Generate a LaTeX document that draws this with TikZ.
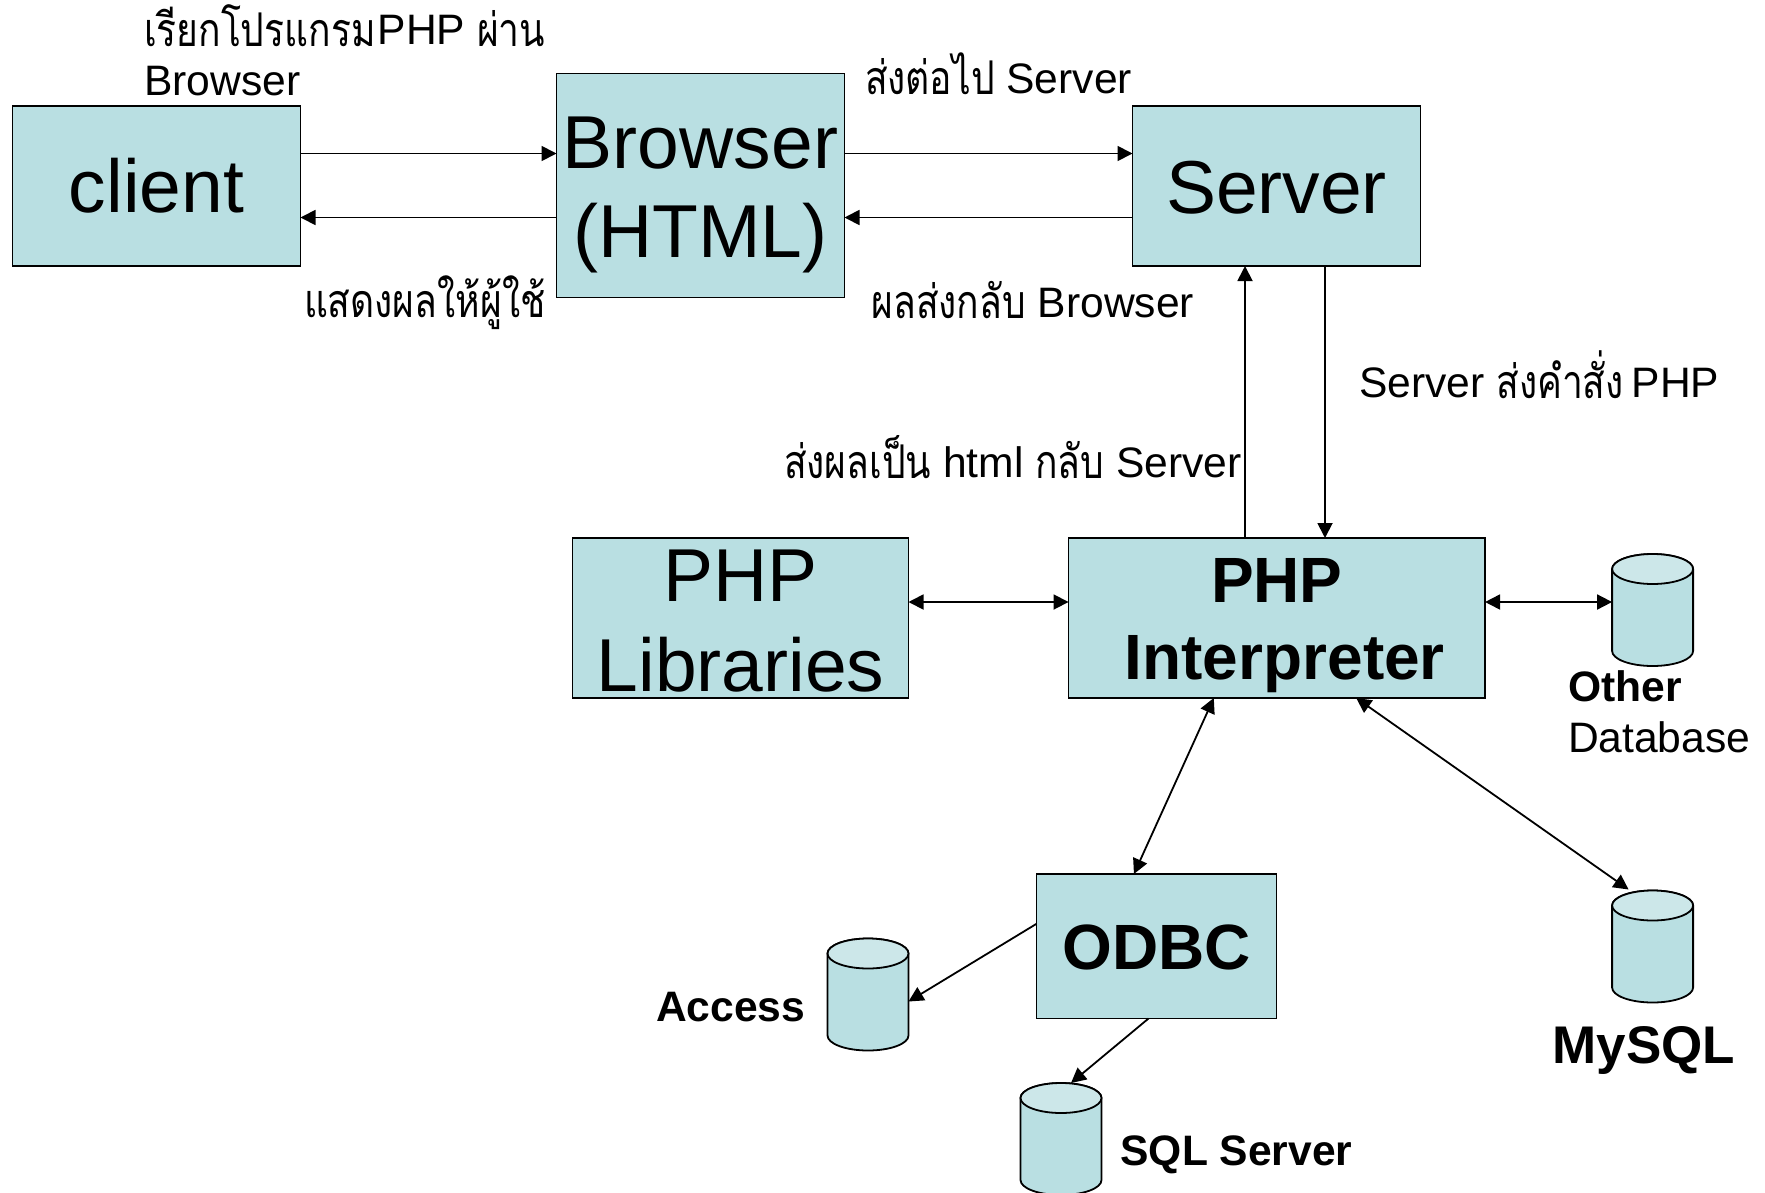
\documentclass[tikz,border=0pt]{standalone}
\usepackage{fontspec}
\setmainfont{Liberation Sans}
\newfontfamily\thaifont[Script=Thai,FakeStretch=0.8]{Loma}
\usetikzlibrary{arrows.meta,calc}
\definecolor{boxfill}{HTML}{B9DFE2}
\definecolor{capfill}{HTML}{CCE7E9}
\newcommand{\thaitxt}[1]{\raisebox{-1.5pt}{\thaifont\fontsize{46.5}{51}\selectfont #1}}
\newcommand{\boxlbl}[2]{\raisebox{-#1pt}[0pt][0pt]{\begin{tabular}[b]{@{}c@{}}#2\end{tabular}}}
\newcommand{\dbshape}[1]{%
  \path[dbline,fill=boxfill] ([yshift=-15pt]#1.north west) -- ([yshift=15pt]#1.south west)
    arc[start angle=180,end angle=360,x radius=40.5pt,y radius=15pt]
    -- ([yshift=-15pt]#1.north east)
    arc[start angle=0,end angle=180,x radius=40.5pt,y radius=15pt] -- cycle;
  \path[dbline,fill=capfill] ([yshift=-15pt]#1.north west)
    arc[start angle=180,end angle=540,x radius=40.5pt,y radius=15pt] -- cycle;
}
\tikzset{
  flowbox/.style={draw=black,line width=1.8pt,fill=boxfill,rectangle,inner sep=0pt,outer sep=0pt,text=black},
  bigtext/.style={font=\fontsize{75}{89.5}\selectfont},
  boldtext/.style={font=\fontsize{64}{77}\selectfont\bfseries},
  small/.style={font=\fontsize{42.6}{51}\selectfont,anchor=base west,inner sep=0pt,outer sep=0pt},
  smallbold/.style={small,font=\fontsize{42.6}{51}\selectfont\bfseries},
  dbase/.style={rectangle,draw=none,minimum width=81pt,minimum height=112pt,inner sep=0pt,outer sep=0pt},
  dbline/.style={draw=black,line width=1.8pt},
  conn/.style={draw=black,line width=1.8pt,-{Triangle[length=15pt,width=15pt]}},
  biconn/.style={draw=black,line width=1.8pt,{Triangle[length=15pt,width=15pt]}-{Triangle[length=15pt,width=15pt]}},
}
\begin{document}
\begin{tikzpicture}[x=1pt,y=-1pt]
\useasboundingbox (0,0) rectangle (1765,1192);
\node[flowbox,bigtext,minimum width=288pt,minimum height=160pt] (client) at (156.5,186) {\boxlbl{26.3}{client}};
\node[flowbox,bigtext,minimum width=288pt,minimum height=224pt] (browser) at (700.5,185.5) {\boxlbl{72.4}{Browser\\(HTML)}};
\node[flowbox,bigtext,minimum width=288pt,minimum height=160pt] (server) at (1276.5,186) {\boxlbl{27.3}{Server}};
\node[flowbox,bigtext,minimum width=336pt,minimum height=160pt] (lib) at (740.5,618) {\boxlbl{73}{PHP\\Libraries}};
\node[flowbox,boldtext,minimum width=416.5pt,minimum height=160pt] (interp) at (1276.8,618) {\boxlbl{61.7}{PHP\\\hspace*{16pt}Interpreter}};
\node[flowbox,boldtext,minimum width=240pt,minimum height=144.5pt] (odbc) at (1156.5,946.2) {\boxlbl{23}{ODBC}};
\node[dbase] (other) at (1652.6,610) {};
\node[dbase] (mysql) at (1652.6,946.5) {};
\node[dbase] (access) at (868,994.5) {};
\node[dbase] (sql) at (1061,1139) {};
\dbshape{other}
\dbshape{mysql}
\dbshape{access}
\dbshape{sql}

\node[small] (t1) at (144,95.5) {\begin{tabular}[b]{@{}l@{}}\thaitxt{เรียกโปรแกรม}\hspace{2pt}PHP \thaitxt{ผ่าน}\\Browser\end{tabular}};
\node[small] (t2) at (304,316) {\thaitxt{แสดงผลให้ผู้ใช้}};
\node[small] (t3) at (865,93) {\thaitxt{ส่งต่อไป} Server};
\node[small] (t4) at (871.5,317) {\thaitxt{ผลส่งกลับ} Browser};
\node[small] (t5) at (1359,397) {Server \thaitxt{ส่งคำสั่ง}\hspace{-4pt} PHP};
\node[small] (t6) at (784,477) {\thaitxt{ส่งผลเป็น} html \thaitxt{กลับ} Server};
\node[small] (t7) at (1568,752.5) {\begin{tabular}[b]{@{}l@{}}\textbf{Other}\\Database\end{tabular}};
\node[smallbold] (t8) at (656,1021.5) {Access};
\node[smallbold,font=\fontsize{53}{60}\selectfont\bfseries] (t9) at (1552.5,1063) {MySQL};
\node[smallbold] (t10) at (1120.5,1165) {SQL Server};

\coordinate (rowt) at (0,153.5);
\coordinate (rowb) at (0,217.5);
\coordinate (rowa) at (0,602);
\draw[conn] (client.east |- rowt) -- (browser.west |- rowt);
\draw[conn] (browser.west |- rowb) -- (client.east |- rowb);
\draw[conn] (browser.east |- rowt) -- (server.west |- rowt);
\draw[conn] (server.west |- rowb) -- (browser.east |- rowb);
\draw[conn] (interp.north -| 1245,0) -- (server.south -| 1245,0);
\draw[conn] (server.south -| 1325,0) -- (interp.north -| 1325,0);
\draw[biconn] (lib.east |- rowa) -- (interp.west |- rowa);
\draw[biconn] (interp.east |- rowa) -- (other.west |- rowa);
\draw[biconn] ($(interp.south west)!0.3487!(interp.south east)$) -- ($(odbc.north west)!0.406!(odbc.north east)$);
\draw[biconn] ($(interp.south west)!0.6906!(interp.south east)$) -- ([xshift=-24pt,yshift=1pt]mysql.north);
\draw[conn] ($(odbc.north west)!0.345!(odbc.south west)$) -- ([yshift=-7pt]access.east);
\draw[conn] ($(odbc.south west)!0.467!(odbc.south east)$) -- ([xshift=10pt]sql.north);
\end{tikzpicture}
\end{document}
